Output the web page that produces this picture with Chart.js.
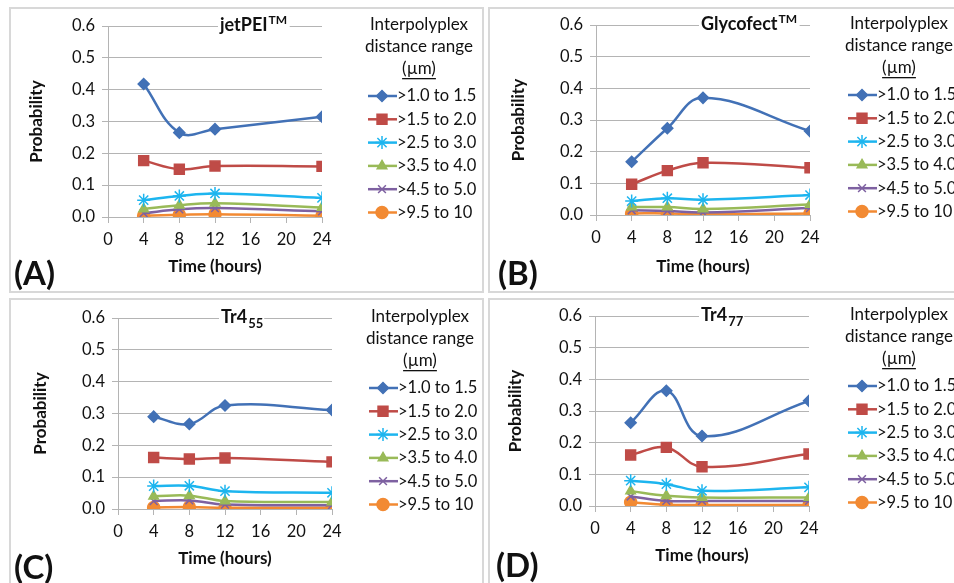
<!DOCTYPE html>
<html>
<head>
<meta charset="utf-8">
<script src="https://cdn.jsdelivr.net/npm/chart.js@4.4.1/dist/chart.umd.min.js"></script>
<style>
  html, body { margin: 0; padding: 0; background: #fff; overflow: hidden; }
  body { width: 954px; height: 583px; position: relative; font-family: Lato, sans-serif; }
  .frame { position: absolute; box-sizing: border-box; border: 2px solid #d8d8d8; }
  canvas { position: absolute; }
  .tag { position: absolute; font: bold 33px Lato, sans-serif; color: #111; line-height: 1; }
</style>
</head>
<body>
<div class="frame" style="left:9px;top:7px;width:475px;height:286px"></div>
<div class="frame" style="left:488px;top:7px;width:475px;height:286px"></div>
<div class="frame" style="left:9px;top:298px;width:475px;height:300px"></div>
<div class="frame" style="left:488px;top:298px;width:475px;height:300px"></div>

<canvas id="chartA" width="475" height="286" style="left:9px;top:7px"></canvas>
<canvas id="chartB" width="475" height="286" style="left:488px;top:7px"></canvas>
<canvas id="chartC" width="475" height="287" style="left:9px;top:298px"></canvas>
<canvas id="chartD" width="475" height="284" style="left:488px;top:298px"></canvas>

<div class="tag" style="left:14px;top:256px">(A)</div>
<div class="tag" style="left:498px;top:256px">(B)</div>
<div class="tag" style="left:14px;top:550px">(C)</div>
<div class="tag" style="left:496px;top:548px">(D)</div>

<script>
const hours = [4, 8, 12, 24];
const distanceRanges = ['>1.0 to 1.5', '>1.5 to 2.0', '>2.5 to 3.0', '>3.5 to 4.0', '>4.5 to 5.0', '>9.5 to 10'];
const legendHeading = ['Interpolyplex', 'distance range', '(\u00b5m)'];

// probability per distance range (rows follow distanceRanges), columns follow hours
const jetPEI = [
    [0.418, 0.265, 0.276, 0.315],
    [0.177, 0.150, 0.160, 0.159],
    [0.053, 0.066, 0.074, 0.060],
    [0.025, 0.037, 0.043, 0.030],
    [0.012, 0.024, 0.028, 0.018],
    [0.004, 0.007, 0.009, 0.004]
];
const glycofect = [
    [0.168, 0.274, 0.370, 0.265],
    [0.097, 0.140, 0.165, 0.149],
    [0.044, 0.053, 0.048, 0.063],
    [0.025, 0.025, 0.019, 0.033],
    [0.015, 0.013, 0.008, 0.022],
    [0.005, 0.005, 0.002, 0.005]
];
const tr4_55 = [
    [0.290, 0.267, 0.325, 0.311],
    [0.162, 0.157, 0.160, 0.148],
    [0.072, 0.073, 0.056, 0.051],
    [0.040, 0.042, 0.025, 0.022],
    [0.025, 0.027, 0.014, 0.012],
    [0.005, 0.006, 0.004, 0.004]
];
const tr4_77 = [
    [0.263, 0.364, 0.221, 0.332],
    [0.161, 0.185, 0.124, 0.164],
    [0.080, 0.069, 0.048, 0.059],
    [0.047, 0.032, 0.027, 0.027],
    [0.030, 0.016, 0.016, 0.016],
    [0.012, 0.004, 0.003, 0.003]
];

const seriesColors = ['#4271b6', '#bf4b47', '#1db5ef', '#99ba58', '#7e61a1', '#f28a33'];
const markerStyles = ['rectRot', 'rect', 'star', 'triangle', 'crossRot', 'circle'];
const markerSizes = [5.5, 7, 6.5, 5.5, 5.5, 6];

const textColor = '#111';
const gridColor = '#b4b4b4';

// draws the panel title and the line+marker legend on the right side
const panelDecor = {
    id: 'panelDecor',
    afterDraw(chart, args, opts) {
        const ctx = chart.ctx;
        const area = chart.chartArea;
        ctx.save();
        ctx.textBaseline = 'middle';

        // title (with super/subscript)
        const ty = area.top - 1;
        let tx = area.left + opts.titleOffset;
        ctx.font = 'bold 18px Lato';
        const mainW = ctx.measureText(opts.title).width;
        ctx.font = 'bold 13px Lato';
        const smallW = ctx.measureText(opts.small).width;
        ctx.fillStyle = '#fff';
        ctx.fillRect(tx - 2, ty - 10, mainW + smallW + 4, 20);
        ctx.fillStyle = textColor;
        ctx.textAlign = 'left';
        ctx.font = 'bold 18px Lato';
        ctx.fillText(opts.title, tx, ty);
        ctx.font = opts.smallIsSub ? 'bold 13px Lato' : 'bold 12px Lato';
        ctx.fillText(opts.small, tx + mainW + 1, opts.smallIsSub ? ty + 7 : ty - 5);

        // legend heading
        const lx = area.right + opts.legendGap;
        const cx = lx + 51;
        ctx.font = '17px Lato';
        ctx.textAlign = 'center';
        legendHeading.forEach((t, k) => ctx.fillText(t, cx, area.top - 1 + 22 * k));
        const uw = ctx.measureText(legendHeading[2]).width;
        ctx.fillRect(cx - uw / 2, area.top - 1 + 44 + 9, uw, 1.3);

        // legend items
        ctx.font = '16.5px Lato';
        ctx.textAlign = 'left';
        chart.data.datasets.forEach((ds, i) => {
            const y = area.top + 70 + 23.3 * i;
            ctx.strokeStyle = ds.borderColor;
            ctx.lineWidth = ds.borderWidth;
            ctx.beginPath();
            ctx.moveTo(lx, y);
            ctx.lineTo(lx + 29, y);
            ctx.stroke();
            ctx.fillStyle = ds.backgroundColor;
            ctx.lineWidth = ds.pointBorderWidth;
            Chart.helpers.drawPoint(ctx, {
                pointStyle: ds.pointStyle,
                radius: ds.pointRadius,
                rotation: 0,
                borderWidth: ds.pointBorderWidth
            }, lx + 14, y);
            ctx.fillStyle = textColor;
            ctx.fillText(ds.label, lx + 29, y);
        });
        ctx.restore();
    }
};

function addPanel(canvasId, values, title, layout) {
    const box = layout.box;
    const area = layout.area;
    return new Chart(document.getElementById(canvasId), {
        type: 'line',
        data: {
            datasets: values.map((row, i) => ({
                label: distanceRanges[i],
                data: row.map((v, j) => ({ x: hours[j], y: v })),
                borderColor: seriesColors[i],
                backgroundColor: seriesColors[i],
                borderWidth: 2.5,
                tension: 0.4,
                pointStyle: markerStyles[i],
                pointRadius: markerSizes[i],
                pointBorderWidth: 1.5
            }))
        },
        options: {
            responsive: false,
            animation: false,
            events: [],
            layout: {
                padding: {
                    left: 0,
                    top: area.top - box.top,
                    right: box.left + box.width - area.right,
                    bottom: 0
                }
            },
            plugins: {
                legend: { display: false },
                tooltip: { enabled: false },
                panelDecor: {
                    title: title.main,
                    small: title.small,
                    smallIsSub: title.sub,
                    titleOffset: layout.titleOffset,
                    legendGap: layout.legendGap
                }
            },
            scales: {
                x: {
                    type: 'linear',
                    min: 0,
                    max: 24,
                    afterFit: s => { s.height = box.top + box.height - area.bottom; },
                    ticks: { stepSize: 4, padding: 7, color: textColor, font: { family: 'Lato', size: 16.5 } },
                    grid: { drawOnChartArea: false, drawTicks: true, tickLength: 6, color: gridColor },
                    border: { color: gridColor },
                    title: {
                        display: true,
                        text: 'Time (hours)',
                        color: textColor,
                        font: { family: 'Lato', size: 17, weight: 'bold' },
                        padding: { top: 0, bottom: 16 }
                    }
                },
                y: {
                    min: 0,
                    max: 0.6,
                    afterFit: s => { s.width = area.left - box.left; },
                    ticks: {
                        stepSize: 0.1,
                        padding: 7,
                        color: textColor,
                        font: { family: 'Lato', size: 16.5 },
                        callback: v => v.toFixed(1)
                    },
                    grid: { drawTicks: true, tickLength: 6, color: gridColor },
                    border: { color: gridColor },
                    title: {
                        display: true,
                        text: 'Probability',
                        color: textColor,
                        font: { family: 'Lato', size: 17, weight: 'bold' },
                        padding: { top: layout.yTitle - 10, bottom: 0 }
                    }
                }
            }
        },
        plugins: [panelDecor]
    });
}

window.addEventListener('DOMContentLoaded', event => {
    addPanel('chartA', jetPEI, { main: 'jetPEI', small: 'TM', sub: false }, {
        box: { left: 9, top: 7, width: 475, height: 286 },
        area: { left: 108, top: 26, right: 322, bottom: 217 },
        titleOffset: 112, legendGap: 46, yTitle: 27
    });
    addPanel('chartB', glycofect, { main: 'Glycofect', small: 'TM', sub: false }, {
        box: { left: 488, top: 7, width: 475, height: 286 },
        area: { left: 596, top: 25, right: 810, bottom: 215 },
        titleOffset: 105, legendGap: 38, yTitle: 30
    });
    addPanel('chartC', tr4_55, { main: 'Tr4', small: '55', sub: true }, {
        box: { left: 9, top: 298, width: 475, height: 287 },
        area: { left: 118, top: 318, right: 332, bottom: 509 },
        titleOffset: 103, legendGap: 37, yTitle: 31
    });
    addPanel('chartD', tr4_77, { main: 'Tr4', small: '77', sub: true }, {
        box: { left: 488, top: 298, width: 475, height: 284 },
        area: { left: 595, top: 316, right: 809, bottom: 506 },
        titleOffset: 106, legendGap: 39, yTitle: 27
    });
});
</script>
</body>
</html>
